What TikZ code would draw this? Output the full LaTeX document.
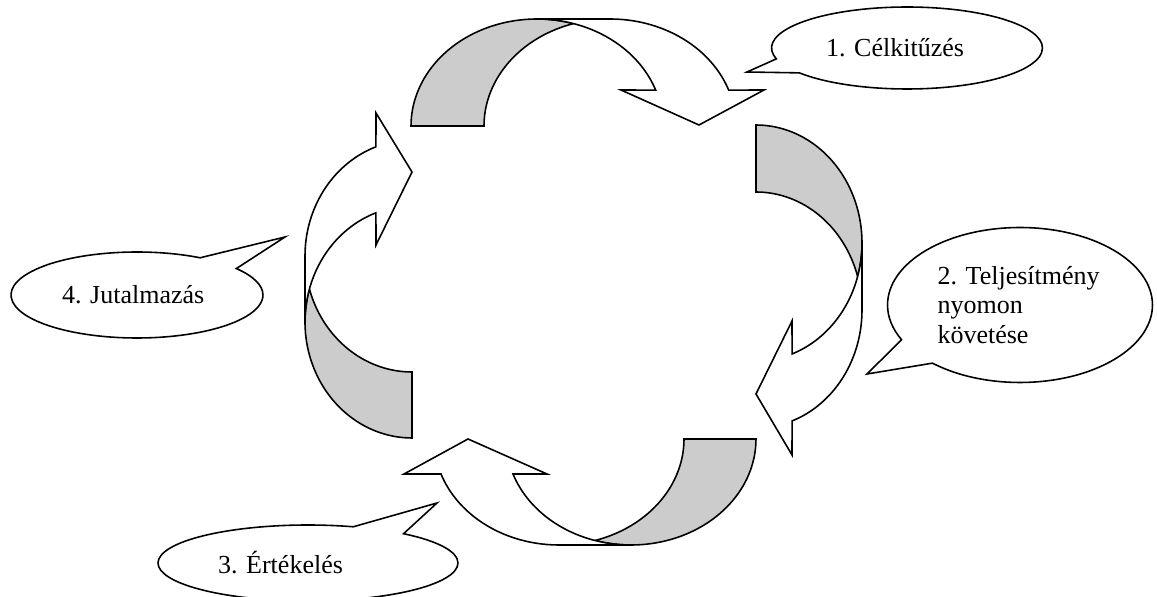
\documentclass[tikz,border=0pt]{standalone}
\usepackage{fontspec}
\setmainfont{Liberation Serif}
\usetikzlibrary{shapes.callouts}

\begin{document}
\begin{tikzpicture}
[
	x=0.02cm,y=-0.02cm,
	back/.style={draw,fill=black!20,line width=0.9pt,line join=miter},
	front/.style={draw,fill=white,line width=0.9pt,line join=miter},
	bubble/.style={ellipse callout,draw,line width=0.9pt,inner sep=0pt,callout pointer arc=22,
		font=\fontsize{14.8}{16.7}\selectfont\frenchspacing,align=left}
]

	\useasboundingbox (0,0) rectangle (1157,597);

	% top arrow
	\draw[back] plot[domain=180:286.8,smooth] ({537+126*cos(\x)},{126+107*sin(\x)})
		-- plot[domain=253.2:180,smooth] ({610+126*cos(\x)},{126+107*sin(\x)}) -- cycle;
	\draw[front] (537,19) -- (610,19)
		-- plot[domain=270:340.4,smooth] ({610+126*cos(\x)},{126+107*sin(\x)})
		-- (764,90) -- (699,125) -- (621,90)
		-- plot[domain=340.4:270,smooth] ({537+126*cos(\x)},{126+107*sin(\x)}) -- cycle;

	% right arrow
	\draw[back] plot[domain=270:376.5,smooth] ({756+106*cos(\x)},{243+118*sin(\x)})
		-- plot[domain=343.5:270,smooth] ({756+106*cos(\x)},{310+118*sin(\x)}) -- cycle;
	\draw[front] (862,243) -- (862,310)
		-- plot[domain=360:430.1,smooth] ({756+106*cos(\x)},{310+118*sin(\x)})
		-- (792,455) -- (756,394) -- (792,321)
		-- plot[domain=430.1:360,smooth] ({756+106*cos(\x)},{243+118*sin(\x)}) -- cycle;

	% bottom arrow
	\draw[back] plot[domain=0:106.7,smooth] ({631+125*cos(\x)},{439+106*sin(\x)})
		-- plot[domain=73.3:0,smooth] ({559+125*cos(\x)},{439+106*sin(\x)}) -- cycle;
	\draw[front] (631,545) -- (559,545)
		-- plot[domain=90:160.7,smooth] ({559+125*cos(\x)},{439+106*sin(\x)})
		-- (404,474) -- (468,439) -- (547,474)
		-- plot[domain=160.7:90,smooth] ({631+125*cos(\x)},{439+106*sin(\x)}) -- cycle;

	% left arrow
	\draw[back] plot[domain=90:196.5,smooth] ({412+107*cos(\x)},{322+116*sin(\x)})
		-- plot[domain=163.5:90,smooth] ({412+107*cos(\x)},{256+116*sin(\x)}) -- cycle;
	\draw[front] (305,322) -- (305,256)
		-- plot[domain=180:250.3,smooth] ({412+107*cos(\x)},{256+116*sin(\x)})
		-- (376,113) -- (412,172) -- (376,245)
		-- plot[domain=250.3:180,smooth] ({412+107*cos(\x)},{322+116*sin(\x)}) -- cycle;

	% callouts
	\node[bubble,minimum width=5.42cm,minimum height=1.64cm,text width=3.24cm,
		callout absolute pointer={(747,72)}] at (907,48) (goal) {1. Célkitűzés};
	\node[bubble,minimum width=5.3cm,minimum height=3.1cm,text width=3.3cm,
		callout absolute pointer={(867,374)}] at (1020,305) (monitor) {2. Teljesítmény\\nyomon\\követése};
	\node[bubble,minimum width=6cm,minimum height=1.52cm,text width=3.6cm,
		callout absolute pointer={(437,503)}] at (308,563) (review) {3. Értékelés};
	\node[bubble,minimum width=5.04cm,minimum height=1.72cm,text width=3cm,
		callout absolute pointer={(285,237)}] at (137,295) (reward) {4. Jutalmazás};

\end{tikzpicture}
\end{document}
